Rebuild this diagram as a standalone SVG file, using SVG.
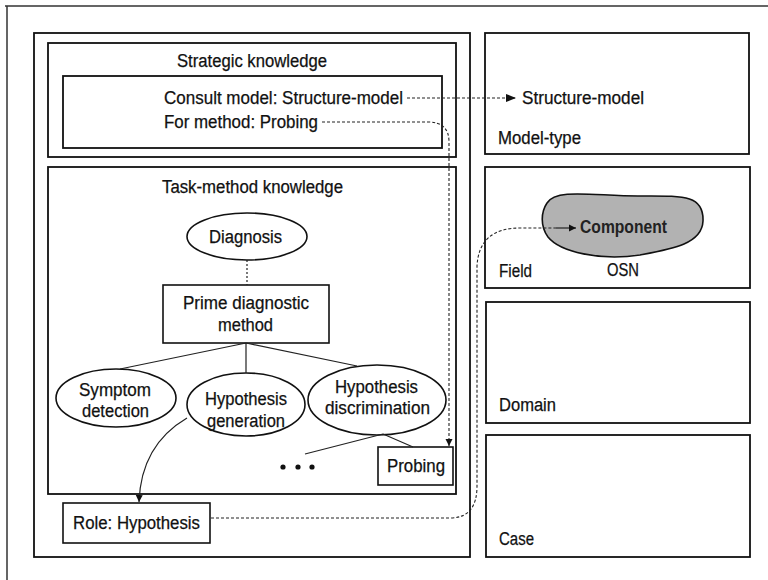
<svg xmlns="http://www.w3.org/2000/svg" width="768" height="580" viewBox="0 0 768 580">
<defs>
<marker id="arr" viewBox="0 0 10 8" refX="10" refY="4" markerWidth="10" markerHeight="8" markerUnits="userSpaceOnUse" orient="auto">
<path d="M0,0 L10,4 L0,8 Z" fill="#111"/>
</marker>
<marker id="arrs" viewBox="0 0 8 8" refX="8" refY="4" markerWidth="7" markerHeight="8" markerUnits="userSpaceOnUse" orient="auto">
<path d="M0,0 L8,4 L0,8 Z" fill="#111"/>
</marker>
</defs>
<style>
text{font-family:"Liberation Sans",Arial,sans-serif;font-size:18px;fill:#111;stroke:#111;stroke-width:0.25}
.c{text-anchor:middle}
.box{fill:none;stroke:#111;stroke-width:1.8}
.node{fill:#fff;stroke:#111;stroke-width:1.6}
.frame{fill:none;stroke:#333;stroke-width:1.5}
.dash{fill:none;stroke:#222;stroke-width:1.1;stroke-dasharray:3 2}
.dot{fill:none;stroke:#222;stroke-width:1.2;stroke-dasharray:2 2}
.line{fill:none;stroke:#222;stroke-width:1.2}
</style>
<rect width="768" height="580" fill="#fff"/>
<g id="frame">
<path class="frame" d="M5 6 H768 M7 6 V580"/>
</g>
<g id="left-panel">
<rect class="box" x="34" y="33" width="436" height="524"/>
</g>
<g id="strategic-knowledge">
<rect class="box" x="48" y="43" width="408" height="114"/>
<text x="177" y="67" textLength="150" lengthAdjust="spacingAndGlyphs">Strategic knowledge</text>
<rect class="box" x="63" y="76" width="379" height="72"/>
<text x="164" y="104" textLength="239" lengthAdjust="spacingAndGlyphs">Consult model: Structure-model</text>
<text x="164" y="128" textLength="154" lengthAdjust="spacingAndGlyphs">For method: Probing</text>
</g>
<g id="task-method-knowledge">
<rect class="box" x="48" y="167" width="408" height="327"/>
<text x="162" y="193" textLength="181" lengthAdjust="spacingAndGlyphs">Task-method knowledge</text>
</g>
<g id="diagnosis">
<ellipse class="node" cx="247" cy="236.5" rx="60" ry="23.5"/>
<text x="209" y="243" textLength="73" lengthAdjust="spacingAndGlyphs">Diagnosis</text>
</g>
<g id="prime-diagnostic-method">
<rect class="node" x="163" y="285" width="166" height="58"/>
<text x="183" y="309" textLength="126" lengthAdjust="spacingAndGlyphs">Prime diagnostic</text>
<text x="218" y="331" textLength="55" lengthAdjust="spacingAndGlyphs">method</text>
</g>
<g id="symptom-detection">
<ellipse class="node" cx="116" cy="398" rx="60" ry="29"/>
<text x="79" y="396" textLength="72" lengthAdjust="spacingAndGlyphs">Symptom</text>
<text x="82" y="417" textLength="67" lengthAdjust="spacingAndGlyphs">detection</text>
</g>
<g id="hypothesis-generation">
<ellipse class="node" cx="246" cy="404.5" rx="59" ry="31.5"/>
<text x="205" y="405" textLength="82" lengthAdjust="spacingAndGlyphs">Hypothesis</text>
<text x="207" y="427" textLength="78" lengthAdjust="spacingAndGlyphs">generation</text>
</g>
<g id="hypothesis-discrimination">
<ellipse class="node" cx="377" cy="400" rx="69" ry="35"/>
<text x="335" y="393" textLength="83" lengthAdjust="spacingAndGlyphs">Hypothesis</text>
<text x="325" y="414" textLength="105" lengthAdjust="spacingAndGlyphs">discrimination</text>
</g>
<g id="ellipsis">
<circle cx="283" cy="467" r="2.6" fill="#111"/>
<circle cx="298" cy="467" r="2.6" fill="#111"/>
<circle cx="312" cy="467" r="2.6" fill="#111"/>
</g>
<g id="probing">
<rect class="node" x="378" y="447" width="75" height="38"/>
<text x="387" y="472" textLength="58" lengthAdjust="spacingAndGlyphs">Probing</text>
</g>
<g id="role-hypothesis">
<rect class="node" x="63" y="503" width="147" height="40"/>
<text x="73" y="529" textLength="127" lengthAdjust="spacingAndGlyphs">Role: Hypothesis</text>
</g>
<g id="model-type">
<rect class="box" x="485" y="33" width="264" height="121"/>
<text x="522" y="104" textLength="122" lengthAdjust="spacingAndGlyphs">Structure-model</text>
<text x="498" y="144" textLength="83" lengthAdjust="spacingAndGlyphs">Model-type</text>
</g>
<g id="field">
<rect class="box" x="485" y="167" width="265" height="121"/>
<path d="M547 203 C556 188 595 196 638 196 C682 196 704 194 703 221 C702 244 672 249 640 255 C600 261 560 252 548 237 C540 226 541 212 547 203 Z" fill="#b2b2b2" stroke="#111" stroke-width="1.6"/>
<text x="580" y="233" textLength="87" lengthAdjust="spacingAndGlyphs" style="font-weight:bold;fill:#222;stroke:none">Component</text>
<text x="499" y="277" textLength="33" lengthAdjust="spacingAndGlyphs">Field</text>
<text x="607" y="276" textLength="32" lengthAdjust="spacingAndGlyphs">OSN</text>
</g>
<g id="domain">
<rect class="box" x="486" y="302" width="264" height="121"/>
<text x="499" y="411" textLength="57" lengthAdjust="spacingAndGlyphs">Domain</text>
</g>
<g id="case">
<rect class="box" x="486" y="435" width="264" height="122"/>
<text x="499" y="545" textLength="35" lengthAdjust="spacingAndGlyphs">Case</text>
</g>
<g id="connectors">
<path class="dash" d="M407 98 H516" marker-end="url(#arr)"/>
<path class="dash" d="M322 122 H428 Q449 122 449 142 V446" marker-end="url(#arrs)"/>
<path class="dash" d="M211 518 H450 Q477 518 477 486 V266 Q479 228 520 228 H556"/>
<path class="line" d="M556 228 H576" marker-end="url(#arrs)"/>
<path class="dot" d="M247 260 V285"/>
<path class="line" d="M246 343 L120 369 M246 343 V373 M246 343 L357 366"/>
<path class="line" d="M383 434 L413 447 M383 434 L305 454"/>
<path class="line" d="M187 418 Q141 445 139 502" marker-end="url(#arrs)"/>
</g>
</svg>
